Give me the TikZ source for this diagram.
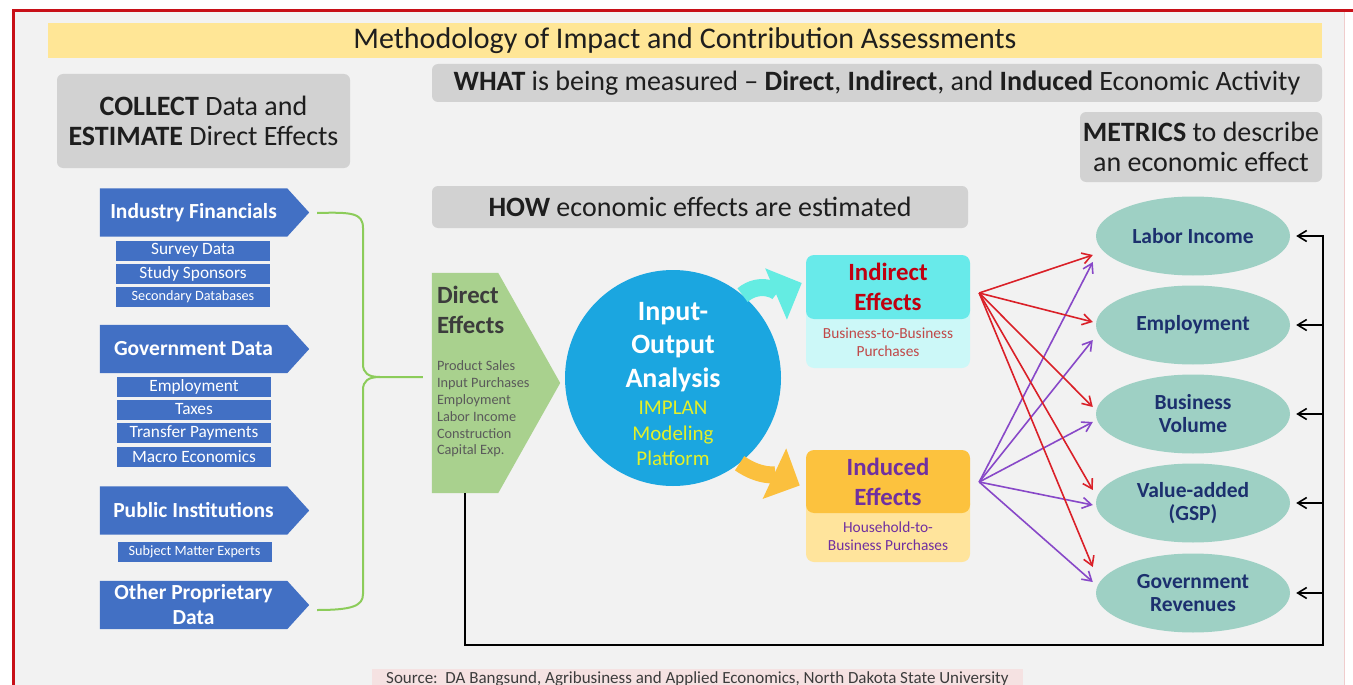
\documentclass[tikz,border=0pt]{standalone}
\usepackage{fontspec}
\setmainfont{Carlito}
\usetikzlibrary{arrows.meta,shapes.geometric,calc,positioning}
\pgfdeclarelayer{background}
\pgfsetlayers{background,main}

\definecolor{bggray}{RGB}{242,242,242}
\definecolor{framered}{RGB}{200,16,24}
\definecolor{framepink}{RGB}{240,205,205}
\definecolor{titleyellow}{RGB}{255,230,150}
\definecolor{boxgray}{RGB}{210,210,210}
\definecolor{textdark}{RGB}{30,30,30}
\definecolor{chevblue}{RGB}{66,112,196}
\definecolor{directgreen}{RGB}{169,209,142}
\definecolor{directtext}{RGB}{60,60,60}
\definecolor{listgray}{RGB}{90,90,90}
\definecolor{iocyan}{RGB}{27,166,224}
\definecolor{platformyellow}{RGB}{228,240,40}
\definecolor{arrowcyan}{RGB}{100,236,226}
\definecolor{inddark}{RGB}{104,234,234}
\definecolor{indlight}{RGB}{204,248,248}
\definecolor{indred}{RGB}{192,0,16}
\definecolor{indsubred}{RGB}{192,72,72}
\definecolor{arroworange}{RGB}{251,192,62}
\definecolor{indudark}{RGB}{252,194,62}
\definecolor{indulight}{RGB}{255,228,156}
\definecolor{indupurple}{RGB}{112,48,160}
\definecolor{effred}{RGB}{218,32,40}
\definecolor{effpurple}{RGB}{136,72,200}
\definecolor{metricteal}{RGB}{158,208,196}
\definecolor{metricnavy}{RGB}{28,48,110}
\definecolor{bracegreen}{RGB}{140,204,90}
\definecolor{sourcepink}{RGB}{245,226,226}
\definecolor{textgray}{RGB}{60,60,60}

\begin{document}
\begin{tikzpicture}[x=1pt,y=1pt,yscale=-1,xscale=1,
  graybox/.style={fill=boxgray,rounded corners=6pt,inner sep=0pt,align=center,text=textdark,font=\fontsize{28}{30}\selectfont},
  chevron/.style={inner sep=0pt,minimum width=187pt,minimum height=48pt,text=white,align=center,font=\bfseries\fontsize{21.5}{25}\selectfont},
  subitem/.style={fill=chevblue,inner sep=0pt,minimum width=154pt,minimum height=20pt,text=white,font=\fontsize{17.3}{19}\selectfont},
  smallitem/.style={subitem,font=\fontsize{14.2}{16}\selectfont},
  effbox/.style={rounded corners=8pt,minimum width=164pt,inner sep=0pt,align=center},
  metric/.style={ellipse,fill=metricteal,minimum width=194pt,minimum height=79pt,inner sep=0pt,align=center,text=metricnavy,font=\bfseries\fontsize{21.5}{23}\selectfont},
  bigarrow/.style={line width=17pt,-{Triangle[length=28pt,width=54pt]}},
  effarrow/.style={line width=1.6pt,-{Straight Barb[length=9pt,width=11pt]}},
  loopline/.style={line width=2pt,black},
  brace/.style={line width=2pt,bracegreen}]

\useasboundingbox (0,0) rectangle (1353,685);

%page and frame
\begin{pgfonlayer}{background}
\fill[white] (0,0) rectangle (1353,685);
\fill[bggray] (13,11) rectangle (1344,700);
\end{pgfonlayer}
\draw[framered,line width=3pt] (13,700) -- (13,11) -- (1353,11);
\draw[framepink,line width=1pt] (1344,12.5) -- (1344,700);

%Title band
\node[fill=titleyellow,minimum width=1274pt,minimum height=35pt,inner sep=0pt,text=textdark,font=\fontsize{30}{36}\selectfont] (title) at (685,40.5) {Methodology of Impact and Contribution Assessments};

%Gray headings
\node[graybox,minimum width=890pt,minimum height=38pt] (what) at (877,83) {\textbf{WHAT} is being measured – \textbf{Direct}, \textbf{Indirect}, and \textbf{Induced} Economic Activity};
\node[graybox,minimum width=293pt,minimum height=94pt] (collect) at (203.5,121) {\textbf{COLLECT} Data and\\\textbf{ESTIMATE} Direct Effects};
\node[graybox,minimum width=242pt,minimum height=70pt] (metrics) at (1201,147) {\textbf{METRICS} to describe\\an economic effect};
\node[graybox,minimum width=536pt,minimum height=42pt] (how) at (700,207) {\textbf{HOW} economic effects are estimated};

%Data sources
\node[chevron] (indfin) at (193.5,212.5) {Industry Financials};
\node[subitem] (survey) at (193,250.5) {Survey Data};
\node[subitem] (sponsors) at (193,273.5) {Study Sponsors};
\node[smallitem] (secondary) at (193,297) {Secondary Databases};

\node[chevron] (govdata) at (193.5,349) {Government Data};
\node[subitem] (govemp) at (194,387) {Employment};
\node[subitem] (taxes) at (194,409.5) {Taxes};
\node[subitem] (transfer) at (194,433) {Transfer Payments};
\node[subitem] (macro) at (194,457) {Macro Economics};

\node[chevron] (pubinst) at (193.5,510.5) {Public Institutions};
\node[smallitem] (experts) at (194.5,552) {Subject Matter Experts};

\node[chevron] (otherdata) at (193.5,605) {Other Proprietary\\Data};

%Direct effects
\node[inner sep=0pt,minimum width=66pt,minimum height=220pt] (direct) at (465,383) {};
\node[anchor=north west,inner sep=0pt,align=left,text=directtext,font=\bfseries\fontsize{24.8}{30}\selectfont] (directtitle) at ($(direct.north west)+(5,13)$) {Direct\\Effects};
\node[anchor=north west,inner sep=0pt,align=left,text=listgray,font=\fontsize{14.3}{16.8}\selectfont] (directlist) at ($(direct.north west)+(5,88)$) {Product Sales\\Input Purchases\\Employment\\Labor Income\\Construction\\Capital Exp.};

\begin{pgfonlayer}{background}
\foreach \c in {indfin,govdata,pubinst,otherdata}
  \fill[chevblue] (\c.north west) -- (\c.north east) -- ($(\c.east)+(22,0)$) -- (\c.south east) -- (\c.south west) -- cycle;
\fill[directgreen] (direct.north west) -- (direct.north east) -- ($(direct.east)+(62,0)$) -- (direct.south east) -- (direct.south west) -- cycle;
\end{pgfonlayer}

%Green brace
\draw[brace] ($(indfin.east)+(30,0.5)$) .. controls (352,212) and (363,213) .. (363,228) -- (363,364) .. controls (363,373) and (368,377) .. (380,377) -- ($(direct.west)+(-9,-6)$);
\draw[brace] (380,377) .. controls (368,377) and (363,381) .. (363,390) -- (363,594) .. controls (363,606) and (352,610) .. ($(otherdata.east)+(30,5)$);

%Input-output circle
\node[circle,fill=iocyan,minimum size=216pt,inner sep=0pt] (io) at (673,378) {};
\node[align=center,text=white,font=\bfseries\fontsize{28}{33.5}\selectfont] (iotitle) at ($(io.center)+(0,-31)$) {Input-\\Output\\Analysis};
\node[align=center,text=platformyellow,font=\fontsize{21}{25.5}\selectfont] (implan) at ($(io.center)+(0,55.5)$) {IMPLAN\\Modeling\\Platform};

%Indirect effects
\node[effbox,fill=indlight,minimum height=68pt] (indsub) at (888,334) {};
\node[align=center,text=indsubred,font=\fontsize{15.4}{18}\selectfont] (indsubtext) at (888,342) {Business-to-Business\\Purchases};
\node[effbox,fill=inddark,minimum height=64pt,text=indred,font=\bfseries\fontsize{24.8}{30}\selectfont] (indtop) at (888,287) {Indirect\\Effects};

%Induced effects
\node[effbox,fill=indulight,minimum height=67pt] (indusub) at (888,528.5) {};
\node[align=center,text=indupurple,font=\fontsize{15.4}{18}\selectfont] (indusubtext) at (888,536) {Household-to-\\Business Purchases};
\node[effbox,fill=indudark,minimum height=63pt,text=indupurple,font=\bfseries\fontsize{24.8}{30}\selectfont] (indutop) at (888,481.5) {Induced\\Effects};

%Big curved arrows
\draw[bigarrow,draw=arrowcyan] (io.50) to[out=-40,in=157] ($(indtop.west)+(-4,-4)$);
\draw[bigarrow,draw=arroworange] (io.-52) to[out=35,in=205] ($(indutop.west)+(-6,4)$);

%Metrics
\node[metric] (li) at (1193,236) {Labor Income};
\node[metric] (emp) at (1193,325) {Employment};
\node[metric] (bv) at (1193,414) {Business\\Volume};
\node[metric] (va) at (1193,503) {Value-added\\(GSP)};
\node[metric] (gr) at (1193,593) {Government\\Revenues};

%Effect arrows
\coordinate (redsrc) at ($(indtop.east)+(9,6)$);
\coordinate (purpsrc) at ($(indutop.east)+(9,0.5)$);
\foreach \m/\r/\p in {li/19/26,emp/-3/15,bv/-7/8,va/-13/2,gr/-26/-11}{
  \draw[effarrow,draw=effred] (redsrc) -- ($(\m.west)+(-3,\r)$);
  \draw[effarrow,draw=effpurple] (purpsrc) -- ($(\m.west)+(-3,\p)$);
}

%Feedback loop
\coordinate (loopcorner) at (1323,645);
\draw[loopline,effarrow,shorten >=6pt] (direct.south) |- (loopcorner) |- (li.east);
\foreach \m in {emp,bv,va,gr}
  \draw[loopline,effarrow,shorten >=6pt] (loopcorner |- \m.east) -- (\m.east);

%Source
\node[anchor=west,fill=sourcepink,inner xsep=14pt,inner ysep=3pt,text=textgray,font=\fontsize{17}{19}\selectfont] (source) at (372,679) {Source:\ \ DA Bangsund, Agribusiness and Applied Economics, North Dakota State University};

\end{tikzpicture}
\end{document}
